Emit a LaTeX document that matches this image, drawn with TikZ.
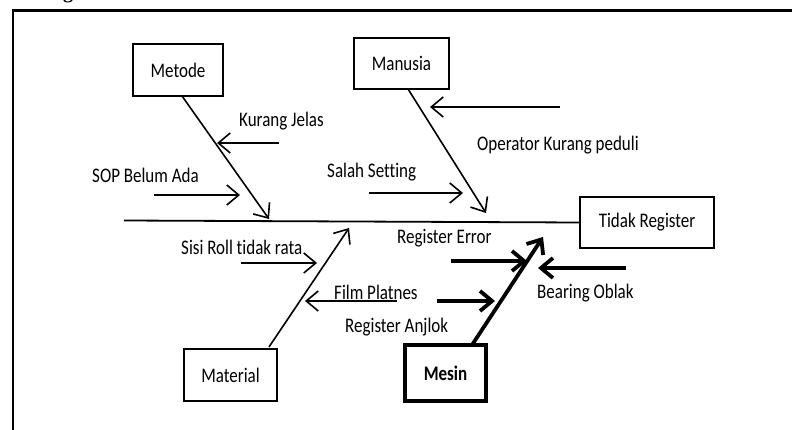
\documentclass[tikz,border=0pt]{standalone}
\usepackage{fontspec}
\setmainfont{Carlito}[Ligatures={NoCommon}]
\newfontfamily\capfont{Liberation Serif}
\usetikzlibrary{arrows.meta}
% labels are set slightly tall and narrow
\newcommand\tall[1]{\scalebox{1}[1.22]{#1}}
\begin{document}
\begin{tikzpicture}[x=1pt,y=-1pt,
  cat/.style={draw,line width=1.8pt,minimum width=#1,minimum height=52pt,inner sep=0pt,font=\fontsize{17}{19}\selectfont},
  lbl/.style={inner sep=0pt,font=\fontsize{17}{19}\selectfont},
  bone/.style={line width=1.6pt,-{Straight Barb[length=12pt,width=20pt,line width=1.6pt]}},
  thickbone/.style={line width=3.8pt,-{Straight Barb[length=12pt,width=20pt,line width=3.8pt]}}]
\useasboundingbox (0,0) rectangle (792,430);
% cropped caption letter and frame
\node[anchor=base,inner sep=0pt,font=\capfont\bfseries\fontsize{20}{22}\selectfont] (capg) at (68,-1) {g};
\draw[line width=2.8pt] (13,432) -- (13,10.5) -- (794,10.5);
% category boxes
\node[cat=90pt] (metode) at (178,70) {\tall{Metode}};
\node[cat=95pt,minimum height=51pt] (manusia) at (401.5,63.5) {\tall{Manusia}};
\node[cat=134pt,minimum height=51pt] (effect) at (647,222.5) {\tall{Tidak Register}};
\node[cat=93pt] (material) at (230.5,375) {\tall{Material}};
\node[cat=81pt,minimum height=56pt,line width=4pt,font=\bfseries\fontsize{17}{19}\selectfont] (mesin) at (445.5,373) {\tall{Mesin}};
% spine
\coordinate (spL) at (124,220.5);
\draw[line width=1.8pt] (spL) -- (effect.west);
% bone end points on the spine
\coordinate (tMet) at (269,219);
\coordinate (tMan) at (486,213);
\coordinate (tMat) at (349,228);
\coordinate (tMes) at (543,237);
\coordinate (sMet) at (182,96);
\coordinate (sMan) at (408,89);
\coordinate (sMat) at (269,347);
\coordinate (sMes) at (472,345);
\draw[bone] (sMet) -- (tMet);
\draw[bone] (sMan) -- (tMan);
\draw[bone] (sMat) -- (tMat);
\draw[thickbone] (sMes) -- (tMes);
% cause arrows
\coordinate (a1s) at (279,143); \coordinate (a1e) at (217,143);
\coordinate (a2s) at (154,195); \coordinate (a2e) at (240,195);
\coordinate (a3s) at (560,107); \coordinate (a3e) at (430,107);
\coordinate (a4s) at (369,193); \coordinate (a4e) at (463,193);
\coordinate (a5s) at (241,263); \coordinate (a5e) at (317,263);
\coordinate (a6s) at (397,301); \coordinate (a6e) at (305,301);
\coordinate (a7s) at (451,261); \coordinate (a7e) at (527,261);
\coordinate (a8s) at (437,301); \coordinate (a8e) at (495,301);
\coordinate (a9s) at (626,268); \coordinate (a9e) at (538,268);
\draw[bone] (a1s) -- (a1e);
\draw[bone] (a2s) -- (a2e);
\draw[bone] (a3s) -- (a3e);
\draw[bone] (a4s) -- (a4e);
\draw[bone] (a5s) -- (a5e);
\draw[bone] (a6s) -- (a6e);
\draw[thickbone] (a7s) -- (a7e);
\draw[thickbone] (a8s) -- (a8e);
\draw[thickbone] (a9s) -- (a9e);
% labels
\node[lbl,anchor=west] (l1) at (239,121) {\tall{Kurang Jelas}};
\node[lbl,anchor=west] (l2) at (92,175) {\tall{SOP Belum Ada}};
\node[lbl,anchor=west] (l3) at (477,145) {\tall{Operator Kurang peduli}};
\node[lbl,anchor=west] (l4) at (327,172) {\tall{Salah Setting}};
\node[lbl,anchor=west] (l5) at (181,247) {\tall{Sisi Roll tidak rata}};
\node[lbl,anchor=west] (l6) at (334,292) {\tall{Film Platnes}};
\node[lbl,anchor=west] (l7) at (345,327) {\tall{Register Anjlok}};
\node[lbl,anchor=west] (l8) at (397,238) {\tall{Register Error}};
\node[lbl,anchor=west] (l9) at (537,293) {\tall{Bearing Oblak}};
\end{tikzpicture}
\end{document}
